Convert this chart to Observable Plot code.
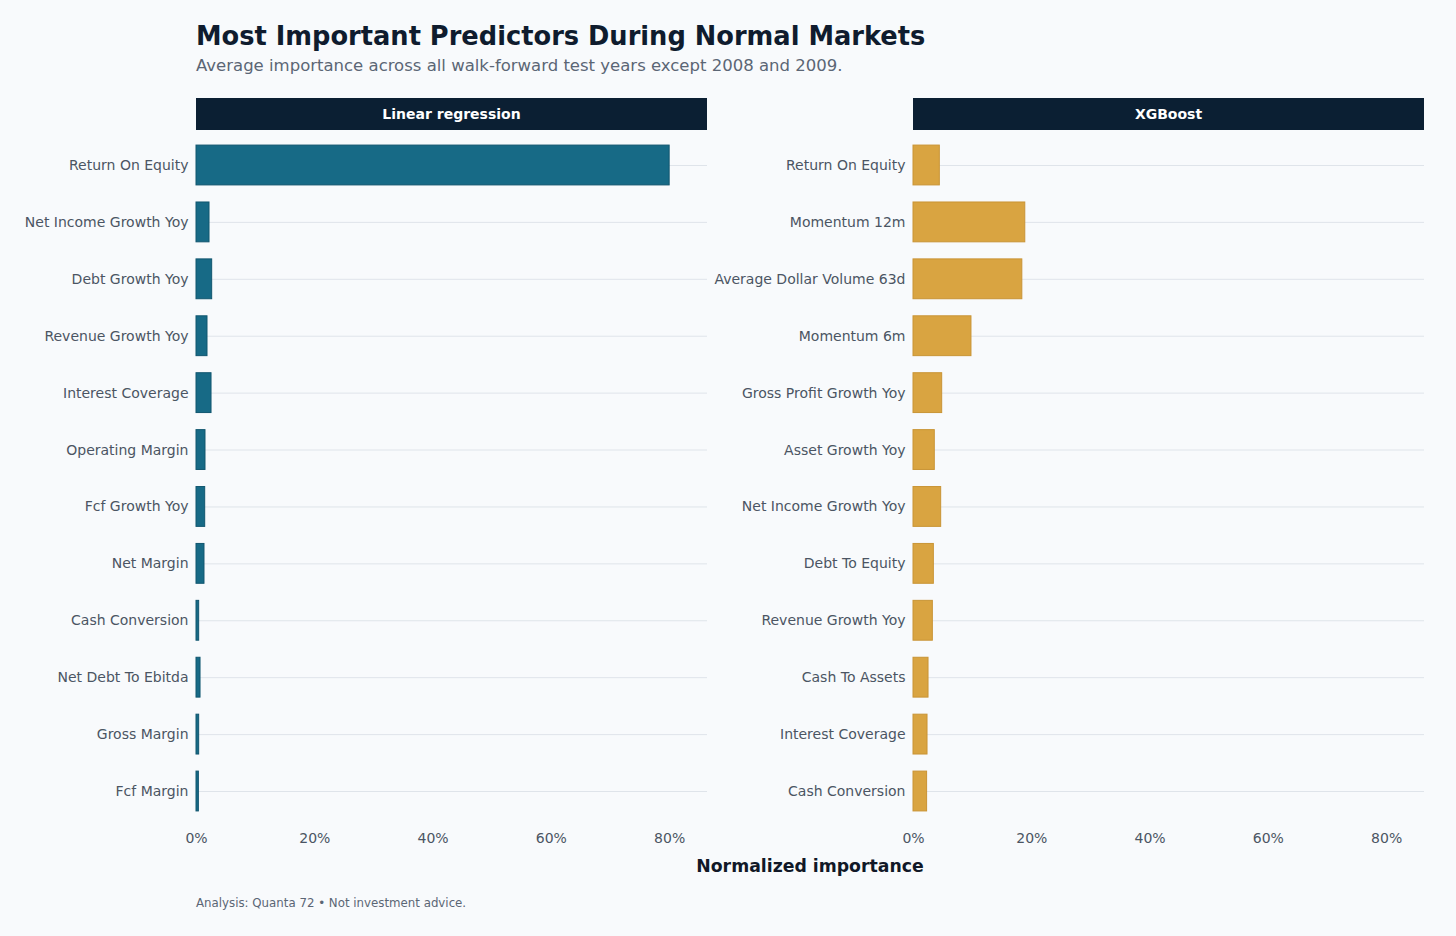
<!DOCTYPE html>
<html>
<head>
<meta charset="utf-8">
<script src="https://cdn.jsdelivr.net/npm/d3@7"></script>
<script src="https://cdn.jsdelivr.net/npm/@observablehq/plot@0.6"></script>
<style>
  html, body { margin: 0; padding: 0; background: #f8fafc; }
  body { width: 1456px; height: 936px; position: relative; font-family: "DejaVu Sans", sans-serif; overflow: hidden; }
  .abs { position: absolute; }
  #title { left: 196px; top: 21px; font-size: 25.7px; font-weight: bold; color: #0f1c2e; white-space: nowrap; }
  #subtitle { left: 196px; top: 56px; font-size: 16.5px; color: #5b6675; white-space: nowrap; }
  .strip { top: 98px; height: 32px; background: #0b1f33; color: #ffffff; font-size: 14px; font-weight: bold; display: flex; align-items: center; justify-content: center; }
  #xlabel { left: 0; width: 1620px; top: 856px; text-align: center; font-size: 17.3px; font-weight: bold; color: #111827; }
  #caption { left: 196px; top: 896px; font-size: 11.8px; color: #5b6675; white-space: nowrap; }
</style>
</head>
<body>
<script>
// Data
const lrFeatures = ["Return On Equity","Net Income Growth Yoy","Debt Growth Yoy","Revenue Growth Yoy","Interest Coverage","Operating Margin","Fcf Growth Yoy","Net Margin","Cash Conversion","Net Debt To Ebitda","Gross Margin","Fcf Margin"];
const lrValues = [0.800,0.022,0.0265,0.0186,0.0254,0.0152,0.0147,0.0135,0.0045,0.0068,0.0045,0.0040];
const xgbFeatures = ["Return On Equity","Momentum 12m","Average Dollar Volume 63d","Momentum 6m","Gross Profit Growth Yoy","Asset Growth Yoy","Net Income Growth Yoy","Debt To Equity","Revenue Growth Yoy","Cash To Assets","Interest Coverage","Cash Conversion"];
const xgbValues = [0.0445,0.189,0.184,0.098,0.0485,0.036,0.0468,0.0344,0.0327,0.0254,0.0237,0.023];
const panelTitles = ["Linear regression","XGBoost"];
const xTicks = [0,0.2,0.4,0.6,0.8];
const xMax = 0.864;

function panel(features, values, fill, stroke, width, marginLeft, marginRight) {
  const data = features.map((f, i) => ({feature: f, value: values[i]}));
  return Plot.plot({
    width, height: 760,
    marginLeft, marginRight, marginTop: 30, marginBottom: 30,
    style: {background: "transparent", fontFamily: "DejaVu Sans, sans-serif", fontSize: "14px", color: "#4b5563", overflow: "visible"},
    x: {domain: [0, xMax], ticks: xTicks, tickFormat: d3.format(".0%"), tickSize: 0, tickPadding: 5, label: null},
    y: {domain: features, padding: 0.3, round: false, tickSize: 0, tickPadding: 8, label: null},
    marks: [
      Plot.ruleY(features, {y: d => d, stroke: "#dfe4ea", strokeWidth: 1}),
      Plot.barX(data, {x: "value", y: "feature", fill, stroke, strokeWidth: 1})
    ]
  });
}

const left = panel(lrFeatures, lrValues, "#176a86", "#11566f", 710, 196, 3);
left.classList.add("abs"); left.style.left = "0px"; left.style.top = "98px";
document.body.appendChild(left);
const right = panel(xgbFeatures, xgbValues, "#d9a441", "#c99435", 756, 213, 32);
right.classList.add("abs"); right.style.left = "700px"; right.style.top = "98px";
document.body.appendChild(right);

function addDiv(cls, id, text, styles) {
  const d = document.createElement("div");
  d.className = cls; if (id) d.id = id; d.textContent = text;
  Object.assign(d.style, styles || {});
  document.body.appendChild(d);
}
addDiv("abs", "title", "Most Important Predictors During Normal Markets");
addDiv("abs", "subtitle", "Average importance across all walk-forward test years except 2008 and 2009.");
addDiv("abs strip", null, panelTitles[0], {left: "196px", width: "511px"});
addDiv("abs strip", null, panelTitles[1], {left: "913px", width: "511px"});
addDiv("abs", "xlabel", "Normalized importance");
addDiv("abs", "caption", "Analysis: Quanta 72 \u2022 Not investment advice.");
</script>
</body>
</html>
